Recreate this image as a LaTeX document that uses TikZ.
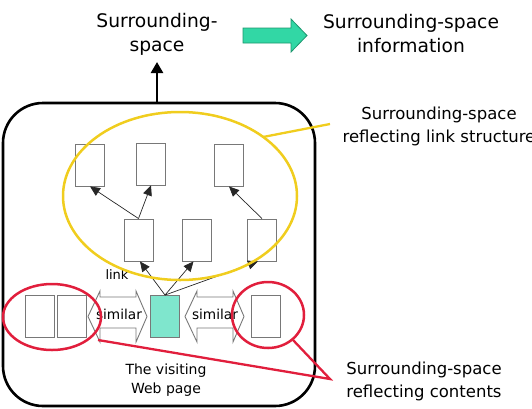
\documentclass[tikz,border=0pt]{standalone}
\usepackage{fontspec}
\setmainfont{DejaVu Sans}
\usetikzlibrary{arrows.meta,calc,shapes.geometric}
\definecolor{aqua}{RGB}{50,215,165}
\definecolor{aquadark}{RGB}{30,150,110}
\definecolor{lightaqua}{RGB}{127,230,205}
\definecolor{ygold}{RGB}{240,205,30}
\definecolor{rcrim}{RGB}{225,30,60}
\definecolor{boxgray}{RGB}{120,120,120}
\tikzset{
  page/.style={draw=boxgray, line width=0.9pt, fill=white, minimum width=29pt, minimum height=42pt, inner sep=0pt},
  linkarrow/.style={draw=black!85, line width=0.7pt, -{Triangle[length=10pt,width=9pt]}, shorten >=0pt},
  bigtext/.style={align=center, font=\fontsize{18.7}{24}\selectfont},
  midtext/.style={align=center, font=\fontsize{16.5}{23}\selectfont},
  smalltext/.style={align=center, font=\fontsize{14}{19}\selectfont},
  dblarrow/.style={draw=boxgray, line width=0.9pt, fill=white},
  ring/.style={line width=2.5pt},
}
\begin{document}
\begin{tikzpicture}[x=1pt,y=-1pt]
\useasboundingbox (0,0) rectangle (532,408);
% outer rounded box
\draw[line width=2.6pt, rounded corners=40pt] (3,406) -- (3,103) -- (315,103) -- (315,406) -- cycle;
\coordinate (boxtop) at (157,103);
% titles
\node[bigtext] (ss) at (157,34) {Surrounding-\\space};
\node[bigtext] (ssi) at (411,34) {Surrounding-space\\information};
\coordinate (arrtip) at (157,62);
\draw[line width=2.5pt, -{Triangle[length=11pt,width=12pt]}] (boxtop) -- (arrtip);
% green block arrow
\draw[draw=aquadark, fill=aqua, line width=0.8pt] (243,28) -- (291,28) -- (291,19) -- (307,35.5) -- (291,52) -- (291,43) -- (243,43) -- cycle;
% pages
\node[page] (R1) at (90,165) {};
\node[page] (R2) at (151,164) {};
\node[page] (R3) at (229,165) {};
\node[page] (R4) at (138.5,240) {};
\node[page] (R5) at (196.5,240) {};
\node[page] (R6) at (262,240) {};
\node[page] (B1) at (40,316) {};
\node[page] (B2) at (71.5,316) {};
\node[page, fill=lightaqua] (C) at (165,316.5) {};
\node[page] (B3) at (265.5,316) {};
% link arrows
\draw[linkarrow] (R4.north) -- (R1.south);
\draw[linkarrow] (R4.north) -- (R2.south);
\draw[linkarrow] (R6.north) -- (R3.south);
\draw[linkarrow] (C.north) -- ($(R4.south)+(1.5,0)$);
\draw[linkarrow] (C.north) -- ($(R5.south)+(-3,0)$);
\draw[linkarrow] (C.north) -- ($(R6.south)+(-4,0)$);
\node[smalltext, font=\fontsize{13}{16}\selectfont] (lk) at (117,275) {link};
% similar double arrows
\draw[dblarrow] (88,316.5) -- (100,291) -- (100,297) -- (136,297) -- (136,291) -- (147,316.5) -- (136,342) -- (136,328) -- (100,328) -- (100,342) -- cycle;
\node[smalltext, font=\fontsize{13.7}{16}\selectfont] (sim1) at (119,314) {similar};
\draw[dblarrow] (185,316.5) -- (197,291) -- (197,297) -- (233,297) -- (233,291) -- (244,316.5) -- (233,342) -- (233,328) -- (197,328) -- (197,342) -- cycle;
\node[smalltext, font=\fontsize{13.7}{16}\selectfont] (sim2) at (215,314) {similar};
% yellow ellipse
\node[draw=ygold, ring, ellipse, minimum width=234pt, minimum height=168pt, inner sep=0pt] (yel) at (180,196) {};
\coordinate (ylab) at (330,124);
\draw[ygold, line width=2.3pt] (263,137) -- (ylab);
% red ellipses
\draw[rcrim, ring] (52,317) ellipse [x radius=49pt, y radius=33pt];
\draw[rcrim, ring] (268,315) ellipse [x radius=36pt, y radius=33pt];
\coordinate (rmeet) at (330,379);
\coordinate (rl) at (98,340);
\coordinate (rr) at (293,340);
\draw[rcrim, line width=2.3pt] (rl) -- (rmeet) -- (rr);
% labels
\node[midtext] (lsl) at (439,126) {Surrounding-space\\reflecting link structure};
\node[midtext] (lsc) at (424,381) {Surrounding-space\\reflecting contents};
\node[smalltext] (vis) at (166,380) {The visiting\\Web page};
\end{tikzpicture}
\end{document}
